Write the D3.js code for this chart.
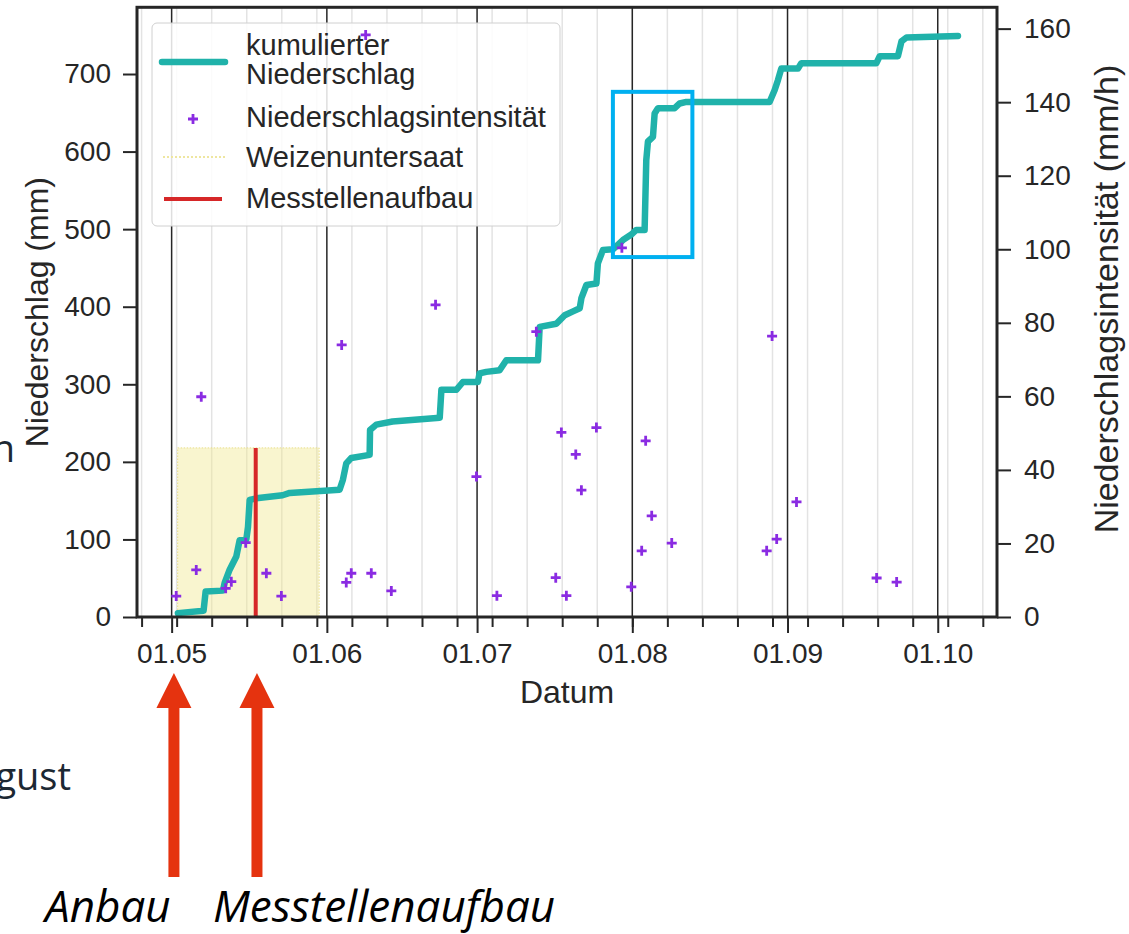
<!DOCTYPE html>
<html>
<head>
<meta charset="utf-8">
<script src="https://cdn.jsdelivr.net/npm/d3@7"></script>
<style>
body { margin: 0; background: #fff; }
</style>
</head>
<body>
<div id="chart"></div>
<script>
// cumulative rainfall (left axis, mm)
var cumDates = [
	"05-02 06:00","05-07 09:00","05-07 19:00","05-11 06:00","05-11 14:00","05-12 14:00","05-13 22:00",
	"05-14 14:00","05-15 22:00","05-16 06:00","05-16 14:00","05-17 22:00","05-23 04:00","05-24 14:00",
	"06-03 13:00","06-04 05:00","06-04 21:00","06-05 21:00","06-09 13:00","06-09 15:00","06-10 21:00",
	"06-14 03:00","06-23 13:00","06-23 21:00","06-26 21:00","06-28 04:00","07-01 04:00","07-01 12:00",
	"07-02 20:00","07-05 12:00","07-06 20:00","07-13 04:00","07-13 12:00","07-16 20:00","07-18 12:00",
	"07-20 04:00","07-21 12:00","07-21 20:00","07-22 20:00","07-24 20:00","07-25 03:00","07-26 03:00",
	"07-28 03:00","07-30 03:00","07-31 19:00","08-01 19:00","08-03 11:00","08-03 19:00","08-04 03:00",
	"08-05 03:00","08-05 11:00","08-06 03:00","08-09 11:00","08-10 11:00","08-11 19:00","08-28 10:00",
	"08-29 10:00","08-30 02:00","08-30 18:00","09-03 02:00","09-03 18:00","09-18 18:00","09-19 10:00",
	"09-23 01:00","09-23 18:00","09-24 18:00","10-05 01:00"];
var cumValues = [
	5, 8, 33, 34, 44, 61, 78,
	99, 100, 116, 151, 153, 157, 160,
	164, 177, 198, 205, 209, 241, 248,
	252, 257, 293, 293, 303, 303, 314,
	316, 318, 331, 331, 374, 378, 389,
	394, 398, 411, 428, 430, 456, 473,
	474, 486, 493, 499, 499, 589, 613,
	619, 649, 656, 656, 662, 664, 664,
	679, 692, 707, 707, 714, 714, 723,
	723, 742, 747, 749];

// rainfall intensity (right axis, mm/h)
var rainDates = [
	"05-01 22:00","05-05 22:00","05-06 22:00","05-11 19:00","05-12 22:00","05-15 19:00","05-19 22:00",
	"05-22 22:00","06-03 23:00","06-04 21:00","06-05 21:00","06-08 18:00","06-09 21:00","06-13 21:00",
	"06-22 17:00","06-30 21:00","07-04 23:00","07-12 20:00","07-16 17:00","07-17 20:00","07-18 20:00",
	"07-20 17:00","07-21 20:00","07-24 20:00","07-29 22:00","07-31 19:00","08-02 21:00","08-03 16:00",
	"08-04 21:00","08-08 21:00","08-27 20:00","08-28 22:00","08-29 20:00","09-02 19:00","09-18 19:00",
	"09-22 19:00"];
var rainValues = [
	5.7, 12.8, 59.9, 7.8, 9.6, 20.2, 11.9,
	5.7, 74, 9.4, 11.9, 158.3, 11.9, 7.1,
	84.9, 38.2, 5.8, 77.6, 10.7, 50.2, 5.8,
	44.2, 34.5, 51.5, 100.4, 8.2, 18, 47.9,
	27.5, 20.1, 18, 76.4, 21.2, 31.3, 10.6,
	9.5];

var leftTicks = [0, 100, 200, 300, 400, 500, 600, 700];
var rightTicks = [0, 20, 40, 60, 80, 100, 120, 140, 160];
var xDomain = ["04-24 02:00", "10-12 20:00"];
var yLeftMax = 786, yRightMax = 165.8;

var weizenSpan = ["05-02 05:00", "05-30 11:00"];
var weizenTop = 218;
var messDate = "05-17 19:00";

// slide annotations
var boxDates = ["07-28 03:00", "08-13 00:00"], boxValues = [464, 677];
var arrowDates = ["05-01 11:00", "05-18 01:00"];

var year = "2022-";
var parseTime = function(s) { return d3.timeParse("%Y-%m-%d %H:%M")(year + s); };

var width = 1129, height = 934;
var plot = {left: 137, right: 997, top: 7.3, bottom: 617};
var tickFont = '"Liberation Sans", Arial, sans-serif';
var ink = "#262626";

var svg = d3.select("#chart").append("svg")
	.attr("width", width)
	.attr("height", height);
svg.append("rect").attr("width", width).attr("height", height).attr("fill", "#fff");

var x = d3.scaleTime().domain(xDomain.map(parseTime)).range([plot.left, plot.right]);
var yLeft = d3.scaleLinear().domain([0, yLeftMax]).range([plot.bottom, plot.top]);
var yRight = d3.scaleLinear().domain([0, yRightMax]).range([plot.bottom, plot.top]);

var months = d3.timeMonth.range(x.domain()[0], x.domain()[1]);
var weeks = d3.timeMonday.range(x.domain()[0], x.domain()[1]);

var cumData = cumDates.map(function(d, i) { return {date: parseTime(d), value: cumValues[i]}; });
var rainData = rainDates.map(function(d, i) { return {date: parseTime(d), value: rainValues[i]}; });

// grid
svg.append("g").selectAll("line").data(weeks).enter().append("line")
	.attr("x1", function(d) { return x(d); }).attr("x2", function(d) { return x(d); })
	.attr("y1", plot.top).attr("y2", plot.bottom)
	.attr("stroke", "#e3e3e3").attr("stroke-width", 1.5);
svg.append("g").selectAll("line").data(months).enter().append("line")
	.attr("x1", function(d) { return x(d); }).attr("x2", function(d) { return x(d); })
	.attr("y1", plot.top).attr("y2", plot.bottom)
	.attr("stroke", ink).attr("stroke-width", 1.5);

// Weizenuntersaat span
svg.append("rect")
	.attr("x", x(parseTime(weizenSpan[0])))
	.attr("y", yLeft(weizenTop))
	.attr("width", x(parseTime(weizenSpan[1])) - x(parseTime(weizenSpan[0])))
	.attr("height", yLeft(0) - yLeft(weizenTop))
	.attr("fill", "#f0e68c").attr("fill-opacity", 0.42)
	.attr("stroke", "#e8de8a").attr("stroke-dasharray", "1.5,1.5");

// cumulative line
var line = d3.line()
	.x(function(d) { return x(d.date); })
	.y(function(d) { return yLeft(d.value); });
svg.append("path").datum(cumData)
	.attr("d", line)
	.attr("fill", "none")
	.attr("stroke", "#20b2aa")
	.attr("stroke-width", 6.5)
	.attr("stroke-linejoin", "round")
	.attr("stroke-linecap", "round");

// Messtellenaufbau
svg.append("line")
	.attr("x1", x(parseTime(messDate))).attr("x2", x(parseTime(messDate)))
	.attr("y1", yLeft(0)).attr("y2", yLeft(weizenTop))
	.attr("stroke", "#d62728").attr("stroke-width", 4);

// axes
var styleAxis = function(g, size) {
	g.select(".domain").remove();
	g.attr("font-size", size).attr("font-family", tickFont).attr("color", ink);
	g.selectAll(".tick line").attr("stroke-width", 2);
};
svg.append("g").attr("transform", "translate(0," + plot.bottom + ")")
	.call(d3.axisBottom(x).tickValues(weeks).tickFormat("").tickSize(10))
	.call(styleAxis, 28);
svg.append("g").attr("transform", "translate(0," + plot.bottom + ")")
	.call(d3.axisBottom(x).tickValues(months).tickFormat(d3.timeFormat("%d.%m")).tickSize(16).tickPadding(10))
	.call(styleAxis, 28);
svg.append("g").attr("transform", "translate(" + plot.left + ",0)")
	.call(d3.axisLeft(yLeft).tickValues(leftTicks).tickSize(14).tickPadding(12))
	.call(styleAxis, 28);
svg.append("g").attr("transform", "translate(" + plot.right + ",0)")
	.call(d3.axisRight(yRight).tickValues(rightTicks).tickSize(14).tickPadding(13))
	.call(styleAxis, 28);

// spines
svg.append("rect")
	.attr("x", plot.left).attr("y", plot.top)
	.attr("width", plot.right - plot.left).attr("height", plot.bottom - plot.top)
	.attr("fill", "none").attr("stroke", ink).attr("stroke-width", 3);

// axis titles
svg.append("text").attr("x", (plot.left + plot.right) / 2).attr("y", 703)
	.attr("text-anchor", "middle").attr("font-family", tickFont).attr("font-size", 32).attr("fill", ink)
	.text("Datum");
svg.append("text").attr("transform", "translate(48," + (plot.top + plot.bottom) / 2 + ") rotate(-90)")
	.attr("text-anchor", "middle").attr("font-family", tickFont).attr("font-size", 32).attr("fill", ink)
	.text("Niederschlag (mm)");
svg.append("text").attr("transform", "translate(1118,299) rotate(-90)")
	.attr("text-anchor", "middle").attr("font-family", tickFont).attr("font-size", 34).attr("fill", ink)
	.text("Niederschlagsintensität (mm/h)");

// legend
var legend = svg.append("g").attr("font-family", tickFont).attr("font-size", 29).attr("fill", ink);
legend.append("rect")
	.attr("x", 152).attr("y", 23).attr("width", 408).attr("height", 203).attr("rx", 5)
	.attr("fill", "#fff").attr("fill-opacity", 0.85).attr("stroke", "#d0d0d0");
legend.append("line").attr("x1", 162).attr("x2", 225).attr("y1", 62).attr("y2", 62)
	.attr("stroke", "#20b2aa").attr("stroke-width", 6.5).attr("stroke-linecap", "round");
legend.append("path").attr("d", "M188,119H198M193,114V124")
	.attr("stroke", "#8a2be2").attr("stroke-width", 2.8);
legend.append("line").attr("x1", 163).attr("x2", 225).attr("y1", 157).attr("y2", 157)
	.attr("stroke", "#eee6a0").attr("stroke-width", 2).attr("stroke-dasharray", "2,2");
legend.append("line").attr("x1", 164).attr("x2", 222).attr("y1", 199).attr("y2", 199)
	.attr("stroke", "#d62728").attr("stroke-width", 4);
var legendLabels = ["kumulierter", "Niederschlag", "Niederschlagsintensität", "Weizenuntersaat", "Messtellenaufbau"];
var legendBase = [55, 84, 127, 167, 208];
legend.selectAll("text.lab").data(legendLabels).enter().append("text")
	.attr("class", "lab")
	.attr("x", 246)
	.attr("y", function(d, i) { return legendBase[i]; })
	.text(function(d) { return d; });

// intensity markers (twin axis, drawn last)
svg.append("g").selectAll("path").data(rainData).enter().append("path")
	.attr("transform", function(d) { return "translate(" + x(d.date) + "," + yRight(d.value) + ")"; })
	.attr("d", "M-5,0H5M0,-5V5")
	.attr("stroke", "#8a2be2").attr("stroke-width", 2.8);

// slide annotations
svg.append("rect")
	.attr("x", x(parseTime(boxDates[0]))).attr("y", yLeft(boxValues[1]))
	.attr("width", x(parseTime(boxDates[1])) - x(parseTime(boxDates[0])))
	.attr("height", yLeft(boxValues[0]) - yLeft(boxValues[1]))
	.attr("fill", "none").attr("stroke", "#00b0f0").attr("stroke-width", 4);

var arrowPath = function(cx) {
	var tip = 673, base = 708, bottom = 877, hw = 17.5, sw = 5.5;
	return "M" + cx + "," + tip + "L" + (cx + hw) + "," + base + "L" + (cx + sw) + "," + base +
		"L" + (cx + sw) + "," + bottom + "L" + (cx - sw) + "," + bottom + "L" + (cx - sw) + "," + base +
		"L" + (cx - hw) + "," + base + "Z";
};
svg.append("g").selectAll("path").data(arrowDates).enter().append("path")
	.attr("d", function(d) { return arrowPath(x(parseTime(d))); })
	.attr("fill", "#e5330f");

var slideFont = '"Open Sans", "Noto Sans", sans-serif';
svg.append("text").attr("x", 45).attr("y", 922)
	.attr("font-family", slideFont).attr("font-style", "italic").attr("font-size", 44).attr("fill", "#000")
	.text("Anbau");
svg.append("text").attr("x", 213).attr("y", 922)
	.attr("font-family", slideFont).attr("font-style", "italic").attr("font-size", 44).attr("fill", "#000")
	.text("Messtellenaufbau");
svg.append("text").attr("x", 71).attr("y", 790).attr("text-anchor", "end")
	.attr("font-family", slideFont).attr("font-size", 38).attr("fill", "#1c2833")
	.text("August");
svg.append("text").attr("x", 15).attr("y", 462).attr("text-anchor", "end")
	.attr("font-family", slideFont).attr("font-size", 38).attr("fill", "#1c2833")
	.text("n");
</script>
</body>
</html>
